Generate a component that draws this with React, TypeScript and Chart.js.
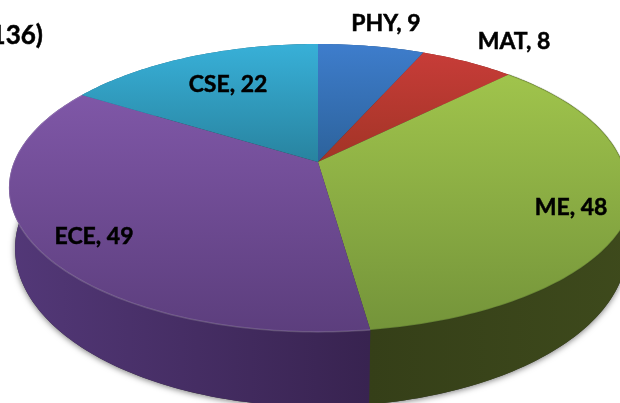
import React, { useEffect, useRef } from "react";
import { Chart, registerables } from "chart.js";

Chart.register(...registerables);

const categories = ["PHY", "MAT", "ME", "ECE", "CSE"];
const values = [9, 8, 48, 49, 22];
const totalLabel = "136)";

const faceLight = ["#3e7dcc", "#c73c38", "#a0c44c", "#7f57a7", "#38b0d8"];
const faceDark = ["#2c629b", "#a23426", "#74943a", "#5c3e7d", "#28839f"];
const wallLeft = ["#2a5a90", "#8a2a26", "#353f18", "#533878", "#20708c"];
const wallRight = ["#1f4670", "#6e2320", "#3e4a1c", "#382350", "#1a5a70"];
const rimColors = [
  "rgba(255,255,255,0)",
  "rgba(255,255,255,0)",
  "rgba(50,70,20,0.22)",
  "rgba(255,255,255,0.16)",
  "rgba(255,255,255,0)",
];

const FONT_SIZE = 23;
const labelAnchors = [
  [386, 24],
  [514, 42],
  [571, 208],
  [94, 237],
  [228, 85],
];

const K = 0.18;
const topDisc = { x: 318, y: 162, aL: 304, aR: 304, grow: 7, b: 139.3 };
const baseDisc = { x: 318, y: 220, aL: 298, aR: 298, grow: 6, b: 153 };

function project(d: any, t: number) {
  const u = Math.cos(t);
  const v = Math.sin(t);
  const w = 1 - K * v;
  const a = u > 0 ? d.aR + d.grow * Math.min(1, Math.max(v, 0) / 0.3) : d.aL;
  return [d.x + (a * u) / w, d.y + (d.b * v) / w];
}

function arcPoints(d: any, s: number, e: number) {
  const n = Math.max(2, Math.ceil((e - s) / 0.02));
  const pts: number[][] = [];
  for (let i = 0; i <= n; i++) pts.push(project(d, s + ((e - s) * i) / n));
  return pts;
}

function trace(ctx: CanvasRenderingContext2D, pts: number[][]) {
  ctx.beginPath();
  pts.forEach((p, i) => (i ? ctx.lineTo(p[0], p[1]) : ctx.moveTo(p[0], p[1])));
  ctx.closePath();
}

function boldText(ctx: CanvasRenderingContext2D, s: string, x: number, y: number) {
  ctx.fillText(s, x, y);
  ctx.strokeText(s, x, y);
}

const pie3d = {
  id: "pie3d",
  beforeDatasetDraw(chart: any) {
    const ctx: CanvasRenderingContext2D = chart.ctx;
    const arcs = chart.getDatasetMeta(0).data;

    ctx.save();
    ctx.shadowColor = "rgba(0,0,0,0.55)";
    ctx.shadowBlur = 6;
    ctx.shadowOffsetY = 1;
    ctx.fillStyle = "#333";
    trace(ctx, arcPoints(baseDisc, 0, Math.PI * 2));
    ctx.fill();
    ctx.restore();

    arcs.forEach((arc: any, i: number) => {
      const top = arcPoints(topDisc, arc.startAngle, arc.endAngle);
      const base = arcPoints(baseDisc, arc.startAngle, arc.endAngle);
      const xs = top.concat(base).map((p) => p[0]);
      const g = ctx.createLinearGradient(Math.min(...xs), 0, Math.max(...xs), 0);
      g.addColorStop(0, wallLeft[i]);
      g.addColorStop(1, wallRight[i]);
      ctx.fillStyle = g;
      trace(ctx, top.concat(base.slice().reverse()));
      ctx.fill();
    });

    arcs.forEach((arc: any, i: number) => {
      const rim = arcPoints(topDisc, arc.startAngle, arc.endAngle);
      const pts = [[topDisc.x, topDisc.y], ...rim];
      const ys = pts.map((p) => p[1]);
      const g = ctx.createLinearGradient(0, Math.min(...ys), 0, Math.max(...ys));
      g.addColorStop(0, faceLight[i]);
      g.addColorStop(1, faceDark[i]);
      ctx.fillStyle = g;
      trace(ctx, pts);
      ctx.fill();
      ctx.strokeStyle = rimColors[i];
      ctx.lineWidth = 1.5;
      ctx.beginPath();
      rim.forEach((p, j) => (j ? ctx.lineTo(p[0], p[1]) : ctx.moveTo(p[0], p[1])));
      ctx.stroke();
    });
    return false;
  },
  afterDraw(chart: any) {
    const ctx: CanvasRenderingContext2D = chart.ctx;
    ctx.save();
    ctx.font = `bold ${FONT_SIZE}px Lato, "Open Sans", sans-serif`;
    ctx.fillStyle = "#000";
    ctx.strokeStyle = "#000";
    ctx.lineWidth = 0.5;
    ctx.textBaseline = "middle";
    ctx.textAlign = "center";
    categories.forEach((c, i) => {
      boldText(ctx, `${c}, ${values[i]}`, labelAnchors[i][0], labelAnchors[i][1]);
    });
    ctx.textAlign = "right";
    ctx.font = 'bold 26px Lato, "Open Sans", sans-serif';
    boldText(ctx, totalLabel, 43, 36);
    ctx.restore();
  },
};

export default function App() {
  const ref = useRef<HTMLCanvasElement>(null);
  useEffect(() => {
    const chart = new Chart(ref.current as HTMLCanvasElement, {
      type: "pie",
      data: {
        labels: categories,
        datasets: [{ data: values, backgroundColor: faceLight, borderWidth: 0 }],
      },
      options: {
        responsive: false,
        animation: false,
        plugins: { legend: { display: false }, tooltip: { enabled: false } },
      },
      plugins: [pie3d],
    } as any);
    return () => chart.destroy();
  }, []);
  return (
    <div style={{ position: "fixed", left: 0, top: 0, width: 620, height: 403, background: "#fff", overflow: "hidden" }}>
      <canvas ref={ref} width={620} height={403} style={{ display: "block" }} />
    </div>
  );
}
